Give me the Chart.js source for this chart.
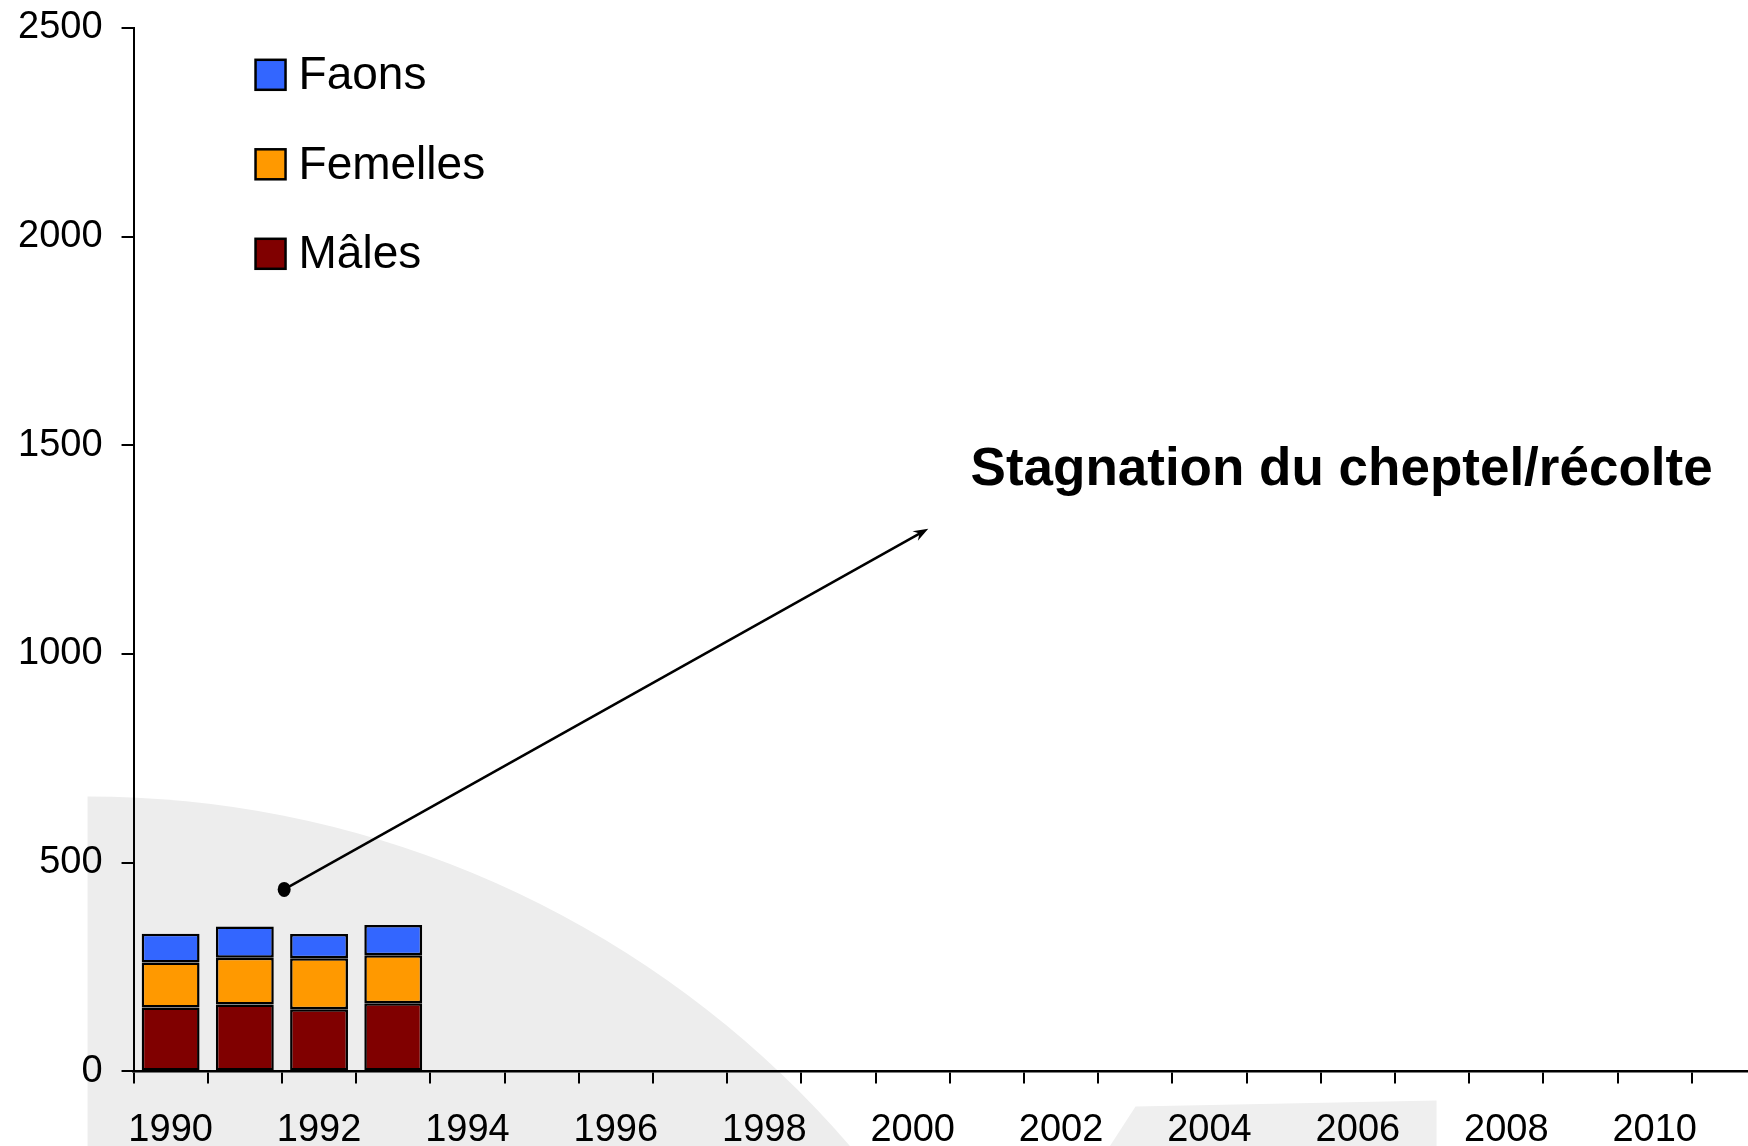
<!DOCTYPE html>
<html>
<head>
<meta charset="utf-8">
<script src="https://cdn.jsdelivr.net/npm/chart.js@4/dist/chart.umd.min.js"></script>
<style>
  html, body { margin: 0; padding: 0; background: #fff; overflow: hidden; width: 1748px; height: 1146px; position: relative; }
  #wrap { position: absolute; left: -1px; top: -14px; width: 1768px; height: 1191px; }
</style>
</head>
<body>
<div id="wrap"><canvas id="c" width="1768" height="1191"></canvas></div>
<script>
// ---- data ----
const years = ['1990','1991','1992','1993','1994','1995','1996','1997','1998','1999','2000',
               '2001','2002','2003','2004','2005','2006','2007','2008','2009','2010','2011'];
const males    = [153, 160, 149, 163];
const femelles = [108, 112, 122, 115];
const faons    = [69, 75, 58, 73];
const yTicks   = [0, 500, 1000, 1500, 2000, 2500];
const annotationText = 'Stagnation du cheptel/récolte';

const FONT = "'Liberation Sans', Arial, sans-serif";

// decorative light-gray watermark behind the chart (placed relative to the plot frame)
const watermark = {
  id: 'watermark',
  beforeDraw(chart) {
    const ctx = chart.ctx;
    const L = chart.chartArea.left, B = chart.chartArea.bottom;
    ctx.save();
    ctx.fillStyle = '#EDEDED';
    ctx.beginPath();
    ctx.rect(L - 46, 0, 3000, 3000);
    ctx.clip();
    ctx.beginPath();
    ctx.arc(L - 46, B + 731, 1006, 0, Math.PI * 2);
    ctx.fill();
    ctx.restore();
    ctx.save();
    ctx.fillStyle = '#EFEFEF';
    ctx.beginPath();
    ctx.moveTo(L + 947, B + 120);
    ctx.lineTo(L + 1002, B + 35);
    ctx.lineTo(L + 1303, B + 29);
    ctx.lineTo(L + 1303, B + 120);
    ctx.closePath();
    ctx.fill();
    ctx.restore();
  }
};

// legend drawn inside the plot, top-left, reversed order
const innerLegend = {
  id: 'innerLegend',
  afterDraw(chart) {
    const ctx = chart.ctx;
    const ds = chart.data.datasets.slice().reverse();
    const x0 = chart.chartArea.left + 122;
    const y0 = chart.chartArea.top + 47;
    const gap = 89.5;
    ctx.save();
    ds.forEach((d, i) => {
      const cy = y0 + i * gap;
      ctx.fillStyle = d.backgroundColor;
      ctx.fillRect(x0, cy - 15, 30, 30);
      ctx.lineWidth = 2.5;
      ctx.strokeStyle = '#000';
      ctx.strokeRect(x0, cy - 15, 30, 30);
      ctx.fillStyle = '#000';
      ctx.font = '46px ' + FONT;
      ctx.textBaseline = 'middle';
      ctx.textAlign = 'left';
      ctx.fillText(d.label, x0 + 43, cy + 2);
    });
    ctx.restore();
  }
};

// annotation arrow + text, positioned through the scales
const annotation = {
  id: 'annotation',
  afterDraw(chart) {
    const ctx = chart.ctx;
    const xs = chart.scales.x, ys = chart.scales.y;
    const x1 = xs.getPixelForValue(1.53), y1 = ys.getPixelForValue(436);
    const x2 = xs.getPixelForValue(10.21), y2 = ys.getPixelForValue(1300);
    ctx.save();
    ctx.strokeStyle = '#000';
    ctx.fillStyle = '#000';
    ctx.lineWidth = 2.5;
    ctx.beginPath();
    ctx.moveTo(x1, y1);
    const ang = Math.atan2(y2 - y1, x2 - x1);
    ctx.lineTo(x2 - 8 * Math.cos(ang), y2 - 8 * Math.sin(ang));
    ctx.stroke();
    // dot
    ctx.beginPath();
    ctx.ellipse(x1, y1, 6.5, 7.5, 0, 0, Math.PI * 2);
    ctx.fill();
    // arrow head
    const L = 15, W = 5.5;
    ctx.beginPath();
    ctx.moveTo(x2, y2);
    ctx.lineTo(x2 - L * Math.cos(ang) + W * Math.sin(ang), y2 - L * Math.sin(ang) - W * Math.cos(ang));
    ctx.lineTo(x2 - 10 * Math.cos(ang), y2 - 10 * Math.sin(ang));
    ctx.lineTo(x2 - L * Math.cos(ang) - W * Math.sin(ang), y2 - L * Math.sin(ang) + W * Math.cos(ang));
    ctx.closePath();
    ctx.fill();
    // text
    ctx.font = 'bold 53px ' + FONT;
    ctx.textAlign = 'left';
    ctx.textBaseline = 'middle';
    ctx.fillText(annotationText, xs.getPixelForValue(10.78), ys.getPixelForValue(1440));
    ctx.restore();
  }
};

const common = { borderColor: '#000', borderWidth: 2.5, borderSkipped: false,
                 barPercentage: 0.78, categoryPercentage: 1.0 };

new Chart(document.getElementById('c'), {
  type: 'bar',
  data: {
    labels: years,
    datasets: [
      Object.assign({ label: 'Mâles', data: males, backgroundColor: '#800000' }, common),
      Object.assign({ label: 'Femelles', data: femelles, backgroundColor: '#FF9900' }, common),
      Object.assign({ label: 'Faons', data: faons, backgroundColor: '#3366FF' }, common)
    ]
  },
  options: {
    responsive: false,
    animation: false,
    events: [],
    layout: { padding: { left: 0, top: 12, right: 1, bottom: 0 } },
    plugins: { legend: { display: false }, tooltip: { enabled: false } },
    scales: {
      x: {
        stacked: true,
        offset: true,
        grid: { offset: true, drawOnChartArea: false, drawTicks: true, tickLength: 12, color: '#000', lineWidth: 2 },
        border: { display: true, color: '#000', width: 2.5 },
        ticks: {
          autoSkip: false, maxRotation: 0, minRotation: 0,
          color: '#000', padding: 24,
          font: { family: FONT, size: 38 },
          callback: (v, i) => (i % 2 === 0 ? years[i] : '')
        }
      },
      y: {
        stacked: true,
        min: 0, max: 2500,
        afterBuildTicks: (scale) => { scale.ticks = yTicks.map(v => ({ value: v })); },
        grid: { drawOnChartArea: false, drawTicks: true, tickLength: 12, color: '#000', lineWidth: 2 },
        border: { display: true, color: '#000', width: 2 },
        ticks: {
          color: '#000', padding: 19,
          font: { family: FONT, size: 38 },
          callback: (v) => String(v)
        }
      }
    }
  },
  plugins: [watermark, innerLegend, annotation]
});
</script>
</body>
</html>
